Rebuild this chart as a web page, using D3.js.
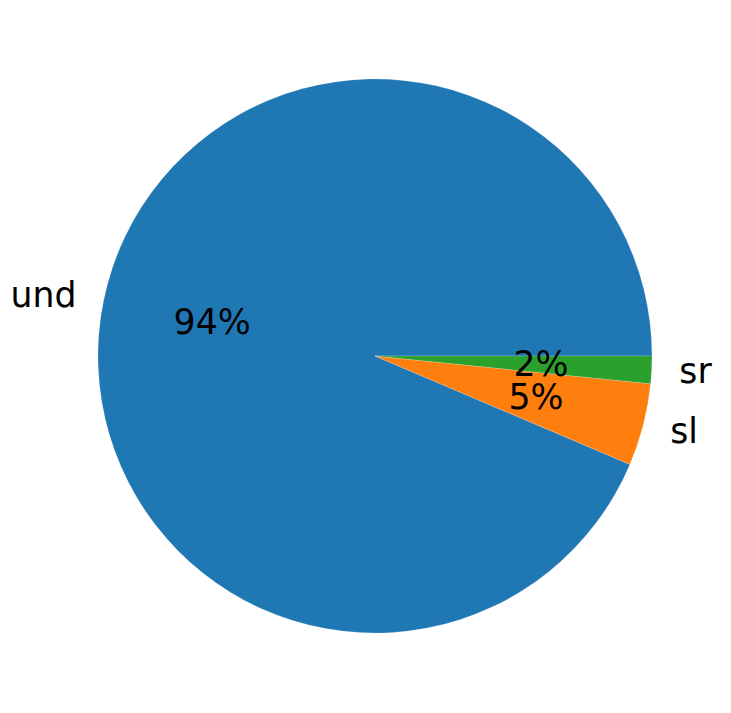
<!DOCTYPE html>
<html><head><meta charset="utf-8">
<script src="https://cdn.jsdelivr.net/npm/d3@7"></script>
<style>body{margin:0;background:#fff}</style>
</head><body>
<svg id="c" width="731" height="713"></svg>
<script>
const categories = ["und", "sl", "sr"];
const values = [585, 30, 10];
const colors = ["#1f77b4", "#ff7f0e", "#2ca02c"];

const svg = d3.select("#c");
const cx = 375, cy = 356, R = 277;
const total = d3.sum(values);
// matplotlib: start at 3 o'clock, counterclockwise
const pie = d3.pie().sort(null).value(d => d)
  .startAngle(Math.PI / 2).endAngle(Math.PI / 2 - 2 * Math.PI);
const arcs = pie(values);
const arc = d3.arc().innerRadius(0).outerRadius(R);
const g = svg.append("g").attr("transform", `translate(${cx},${cy})`);
g.selectAll("path").data(arcs).enter().append("path")
  .attr("d", arc).attr("fill", (d, i) => colors[i])
  .attr("stroke", "#fff").attr("stroke-width", 0.3).attr("stroke-opacity", 0.6);

const font = "DejaVu Sans";
const fs = 34.7;
arcs.forEach((a, i) => {
  const mid = (a.startAngle + a.endAngle) / 2;
  const x = Math.sin(mid), y = -Math.cos(mid);
  g.append("text")
    .attr("x", x * R * 1.1).attr("y", y * R * 1.1).attr("dy", "0.33em")
    .attr("text-anchor", x < 0 ? "end" : "start")
    .attr("font-family", font).attr("font-size", fs).attr("fill", "#000")
    .text(categories[i]);
  g.append("text")
    .attr("x", x * R * 0.6).attr("y", y * R * 0.6).attr("dy", "0.33em")
    .attr("text-anchor", "middle")
    .attr("font-family", font).attr("font-size", fs).attr("fill", "#000")
    .text(d3.format(".0f")(values[i] / total * 100) + "%");
});
</script>
</body></html>
